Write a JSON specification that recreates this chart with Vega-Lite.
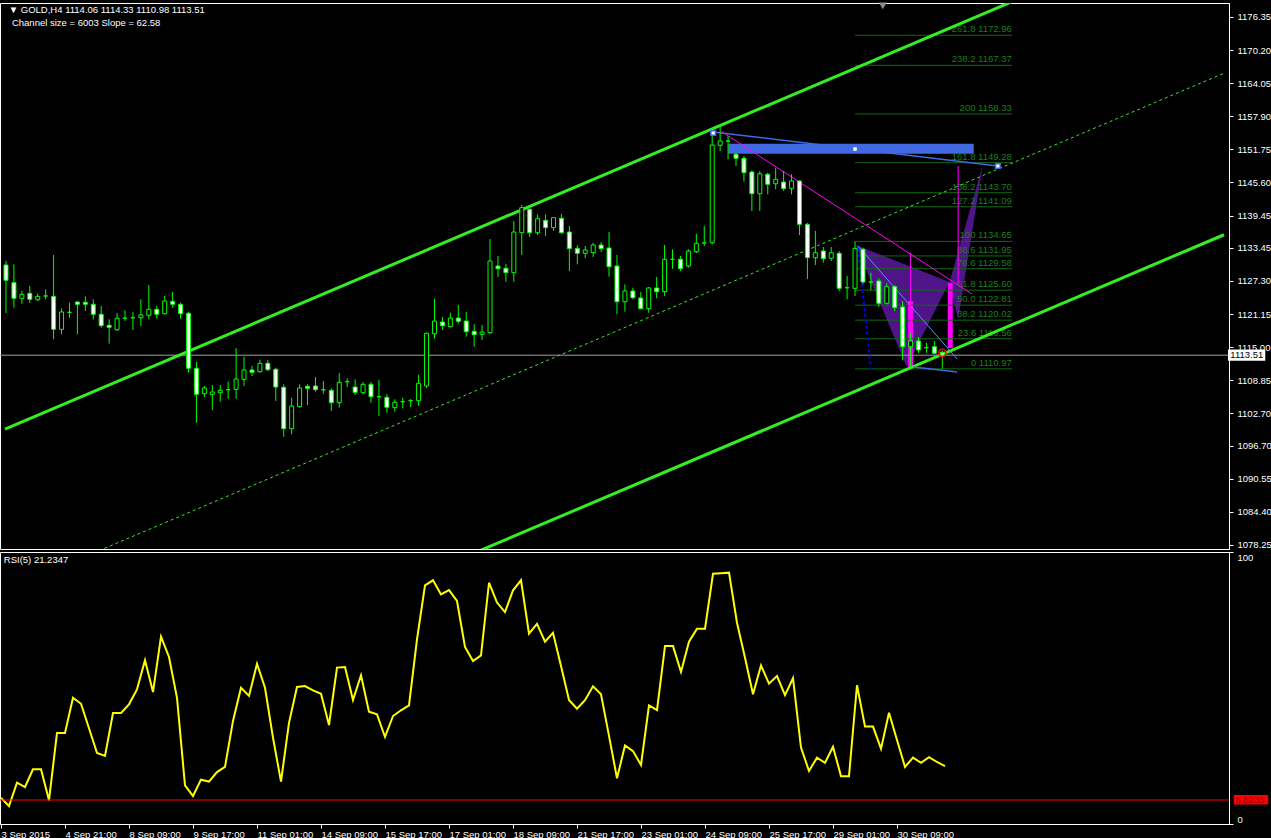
{
"$schema":"https://vega.github.io/schema/vega-lite/v6.json",
"background":"#000000",
"padding":{"left":-4,"top":2,"right":0,"bottom":0},
"spacing":3,
"bounds":"flush",
"config":{
 "view":{"stroke":"#ffffff","fill":"#000000","strokeWidth":1},
 "axis":{"grid":false,"domainColor":"#ffffff","tickColor":"#ffffff","labelColor":"#ffffff","labelFont":"Liberation Sans","labelFontSize":9.5,"tickSize":4,"labelPadding":4,"labelOverlap":false,"labelBound":false,"labelSeparation":0},
 "text":{"font":"Liberation Sans"}
},
"resolve":{"scale":{"x":"independent","y":"independent"}},
"datasets":{
 "candles":[
{"i":0,"o":1130.27,"h":1131.01,"l":1121.35,"c":1127.43},
{"i":1,"o":1126.98,"h":1130.40,"l":1122.34,"c":1124.08},
{"i":2,"o":1124.08,"h":1125.44,"l":1123.08,"c":1124.82},
{"i":3,"o":1125.01,"h":1126.37,"l":1123.26,"c":1123.90},
{"i":4,"o":1123.82,"h":1124.94,"l":1123.58,"c":1124.45},
{"i":5,"o":1124.51,"h":1125.75,"l":1123.90,"c":1124.51},
{"i":6,"o":1124.45,"h":1132.13,"l":1116.46,"c":1118.32},
{"i":7,"o":1118.32,"h":1122.22,"l":1117.39,"c":1121.54},
{"i":8,"o":1121.48,"h":1123.26,"l":1120.48,"c":1121.48},
{"i":9,"o":1123.39,"h":1123.58,"l":1117.39,"c":1122.97},
{"i":10,"o":1123.34,"h":1124.45,"l":1121.72,"c":1122.97},
{"i":11,"o":1122.97,"h":1123.90,"l":1120.18,"c":1121.11},
{"i":12,"o":1121.11,"h":1122.65,"l":1118.62,"c":1118.99},
{"i":13,"o":1119.07,"h":1120.18,"l":1115.65,"c":1118.69},
{"i":14,"o":1118.25,"h":1121.35,"l":1118.01,"c":1120.37},
{"i":15,"o":1120.37,"h":1121.85,"l":1119.86,"c":1120.37},
{"i":16,"o":1120.48,"h":1121.54,"l":1118.19,"c":1120.48},
{"i":17,"o":1120.48,"h":1123.90,"l":1118.93,"c":1120.98},
{"i":18,"o":1120.92,"h":1126.55,"l":1120.18,"c":1122.04},
{"i":19,"o":1122.04,"h":1122.65,"l":1120.29,"c":1121.11},
{"i":20,"o":1121.22,"h":1124.51,"l":1121.07,"c":1123.58},
{"i":21,"o":1123.52,"h":1125.25,"l":1122.34,"c":1122.97},
{"i":22,"o":1122.97,"h":1123.26,"l":1120.29,"c":1121.22},
{"i":23,"o":1121.29,"h":1121.54,"l":1110.26,"c":1111.08},
{"i":24,"o":1111.08,"h":1112.25,"l":1100.97,"c":1106.24},
{"i":25,"o":1106.36,"h":1107.79,"l":1105.74,"c":1107.42},
{"i":26,"o":1106.24,"h":1107.97,"l":1103.33,"c":1106.67},
{"i":27,"o":1106.54,"h":1107.97,"l":1104.87,"c":1106.99},
{"i":28,"o":1107.10,"h":1108.59,"l":1105.43,"c":1107.10},
{"i":29,"o":1107.17,"h":1114.85,"l":1105.43,"c":1109.09},
{"i":30,"o":1109.03,"h":1113.23,"l":1107.79,"c":1110.76},
{"i":31,"o":1110.76,"h":1111.50,"l":1109.64,"c":1110.33},
{"i":32,"o":1110.44,"h":1112.67,"l":1110.26,"c":1112.00},
{"i":33,"o":1112.00,"h":1112.62,"l":1110.57,"c":1110.82},
{"i":34,"o":1110.89,"h":1111.19,"l":1105.00,"c":1107.60},
{"i":35,"o":1107.55,"h":1108.10,"l":1098.37,"c":1099.85},
{"i":36,"o":1099.85,"h":1105.61,"l":1098.81,"c":1104.07},
{"i":37,"o":1103.94,"h":1108.10,"l":1103.76,"c":1107.42},
{"i":38,"o":1107.73,"h":1108.10,"l":1104.26,"c":1107.36},
{"i":39,"o":1107.79,"h":1109.46,"l":1106.73,"c":1107.10},
{"i":40,"o":1107.10,"h":1108.72,"l":1106.36,"c":1107.10},
{"i":41,"o":1106.99,"h":1107.36,"l":1103.14,"c":1104.68},
{"i":42,"o":1104.68,"h":1110.20,"l":1103.76,"c":1108.47},
{"i":43,"o":1108.59,"h":1109.22,"l":1107.60,"c":1108.59},
{"i":44,"o":1107.60,"h":1109.03,"l":1106.11,"c":1106.62},
{"i":45,"o":1106.54,"h":1108.53,"l":1106.24,"c":1108.10},
{"i":46,"o":1108.10,"h":1108.53,"l":1104.68,"c":1105.80},
{"i":47,"o":1105.80,"h":1108.90,"l":1102.21,"c":1105.80},
{"i":48,"o":1105.69,"h":1106.24,"l":1102.83,"c":1103.83},
{"i":49,"o":1103.76,"h":1105.32,"l":1103.01,"c":1104.76},
{"i":50,"o":1104.87,"h":1105.61,"l":1103.64,"c":1104.87},
{"i":51,"o":1105.06,"h":1105.37,"l":1103.89,"c":1105.06},
{"i":52,"o":1105.06,"h":1109.83,"l":1104.07,"c":1108.29},
{"i":53,"o":1107.79,"h":1117.69,"l":1107.42,"c":1117.58},
{"i":54,"o":1117.50,"h":1124.01,"l":1116.58,"c":1119.86},
{"i":55,"o":1119.68,"h":1120.61,"l":1118.19,"c":1118.99},
{"i":56,"o":1118.81,"h":1121.41,"l":1118.62,"c":1120.42},
{"i":57,"o":1120.42,"h":1122.84,"l":1119.36,"c":1119.81},
{"i":58,"o":1119.86,"h":1121.54,"l":1116.95,"c":1117.88},
{"i":59,"o":1117.95,"h":1119.25,"l":1115.09,"c":1117.32},
{"i":60,"o":1117.39,"h":1119.12,"l":1116.33,"c":1117.82},
{"i":61,"o":1117.69,"h":1135.10,"l":1117.45,"c":1131.01},
{"i":62,"o":1130.08,"h":1131.94,"l":1128.04,"c":1129.58},
{"i":63,"o":1129.66,"h":1130.51,"l":1127.17,"c":1128.84},
{"i":64,"o":1128.84,"h":1138.44,"l":1127.17,"c":1136.40},
{"i":65,"o":1136.27,"h":1141.42,"l":1132.13,"c":1140.92},
{"i":66,"o":1140.62,"h":1140.92,"l":1135.47,"c":1136.27},
{"i":67,"o":1136.27,"h":1139.69,"l":1135.84,"c":1138.87},
{"i":68,"o":1138.57,"h":1139.69,"l":1135.66,"c":1137.20},
{"i":69,"o":1137.20,"h":1139.19,"l":1136.59,"c":1139.06},
{"i":70,"o":1138.95,"h":1139.80,"l":1136.03,"c":1136.27},
{"i":71,"o":1136.40,"h":1137.51,"l":1129.15,"c":1133.30},
{"i":72,"o":1133.37,"h":1133.93,"l":1130.40,"c":1132.44},
{"i":73,"o":1132.44,"h":1133.80,"l":1131.51,"c":1133.06},
{"i":74,"o":1132.55,"h":1134.41,"l":1131.76,"c":1133.98},
{"i":75,"o":1133.98,"h":1134.54,"l":1132.68,"c":1133.30},
{"i":76,"o":1133.43,"h":1136.40,"l":1128.10,"c":1129.95},
{"i":77,"o":1130.08,"h":1132.13,"l":1121.11,"c":1123.45},
{"i":78,"o":1123.45,"h":1126.68,"l":1121.59,"c":1125.44},
{"i":79,"o":1125.44,"h":1126.05,"l":1123.90,"c":1124.19},
{"i":80,"o":1124.14,"h":1125.25,"l":1122.04,"c":1122.15},
{"i":81,"o":1122.15,"h":1126.18,"l":1121.41,"c":1126.00},
{"i":82,"o":1126.00,"h":1128.04,"l":1124.08,"c":1125.31},
{"i":83,"o":1125.31,"h":1133.98,"l":1124.51,"c":1131.33},
{"i":84,"o":1131.33,"h":1133.19,"l":1129.58,"c":1131.33},
{"i":85,"o":1131.33,"h":1131.94,"l":1129.15,"c":1129.58},
{"i":86,"o":1130.08,"h":1133.19,"l":1129.77,"c":1132.87},
{"i":87,"o":1132.74,"h":1136.08,"l":1132.50,"c":1134.30},
{"i":88,"o":1134.36,"h":1137.51,"l":1133.80,"c":1134.36},
{"i":89,"o":1134.41,"h":1155.17,"l":1134.11,"c":1152.56},
{"i":90,"o":1152.51,"h":1156.41,"l":1151.45,"c":1153.31},
{"i":91,"o":1153.31,"h":1154.24,"l":1149.91,"c":1153.31},
{"i":92,"o":1150.84,"h":1151.13,"l":1148.66,"c":1150.09},
{"i":93,"o":1150.09,"h":1150.52,"l":1145.75,"c":1147.42},
{"i":94,"o":1147.55,"h":1147.86,"l":1140.30,"c":1143.52},
{"i":95,"o":1143.52,"h":1147.73,"l":1140.30,"c":1147.23},
{"i":96,"o":1147.12,"h":1147.42,"l":1143.40,"c":1145.26},
{"i":97,"o":1145.37,"h":1148.35,"l":1144.33,"c":1146.19},
{"i":98,"o":1145.69,"h":1147.73,"l":1144.02,"c":1144.45},
{"i":99,"o":1144.52,"h":1147.12,"l":1143.40,"c":1145.88},
{"i":100,"o":1145.88,"h":1146.01,"l":1135.84,"c":1137.83},
{"i":101,"o":1137.83,"h":1138.07,"l":1127.67,"c":1131.63},
{"i":102,"o":1131.63,"h":1136.59,"l":1130.27,"c":1132.55},
{"i":103,"o":1132.87,"h":1133.61,"l":1130.70,"c":1131.44},
{"i":104,"o":1131.51,"h":1133.61,"l":1131.01,"c":1132.55},
{"i":105,"o":1132.44,"h":1132.87,"l":1125.44,"c":1125.94},
{"i":106,"o":1126.05,"h":1128.22,"l":1123.90,"c":1126.05},
{"i":107,"o":1125.94,"h":1134.65,"l":1124.51,"c":1133.37},
{"i":108,"o":1133.19,"h":1133.48,"l":1126.68,"c":1127.11},
{"i":109,"o":1127.11,"h":1128.84,"l":1125.57,"c":1127.11},
{"i":110,"o":1127.30,"h":1127.80,"l":1122.52,"c":1123.15},
{"i":111,"o":1123.15,"h":1126.87,"l":1122.97,"c":1126.24},
{"i":112,"o":1126.24,"h":1126.55,"l":1121.72,"c":1122.34},
{"i":113,"o":1122.47,"h":1123.58,"l":1112.56,"c":1115.09},
{"i":114,"o":1115.09,"h":1117.69,"l":1111.00,"c":1116.15},
{"i":115,"o":1116.15,"h":1116.89,"l":1113.97,"c":1114.48},
{"i":116,"o":1114.90,"h":1115.83,"l":1113.97,"c":1114.90},
{"i":117,"o":1115.09,"h":1116.15,"l":1113.68,"c":1113.86},
{"i":118,"o":1114.06,"h":1114.33,"l":1110.98,"c":1113.51}
 ],
 "rsi":[
{"i":0,"v":9.6},{"i":1,"v":6.6},{"i":2,"v":15.2},{"i":3,"v":13.6},{"i":4,"v":20.1},{"i":5,"v":20.1},{"i":6,"v":8.7},{"i":7,"v":33.5},{"i":8,"v":33.5},{"i":9,"v":46.4},
{"i":10,"v":44.2},{"i":11,"v":35.2},{"i":12,"v":26.1},{"i":13,"v":25.0},{"i":14,"v":40.8},{"i":15,"v":40.8},{"i":16,"v":44.0},{"i":17,"v":49.5},{"i":18,"v":60.2},{"i":19,"v":48.5},
{"i":20,"v":68.9},{"i":21,"v":61.4},{"i":22,"v":46.4},{"i":23,"v":14.2},{"i":24,"v":10.3},{"i":25,"v":16.3},{"i":26,"v":15.6},{"i":27,"v":19.1},{"i":28,"v":21.0},{"i":29,"v":37.9},
{"i":30,"v":50.1},{"i":31,"v":47.1},{"i":32,"v":58.9},{"i":33,"v":50.1},{"i":34,"v":31.7},{"i":35,"v":15.6},{"i":36,"v":37.2},{"i":37,"v":50.4},{"i":38,"v":50.7},{"i":39,"v":49.1},
{"i":40,"v":47.9},{"i":41,"v":36.4},{"i":42,"v":57.5},{"i":43,"v":57.7},{"i":44,"v":45.6},{"i":45,"v":54.7},{"i":46,"v":41.3},{"i":47,"v":40.3},{"i":48,"v":32.0},{"i":49,"v":39.7},
{"i":50,"v":41.8},{"i":51,"v":43.6},{"i":52,"v":67.9},{"i":53,"v":87.7},{"i":54,"v":89.6},{"i":55,"v":84.4},{"i":56,"v":86.0},{"i":57,"v":82.0},{"i":58,"v":65.1},{"i":59,"v":59.9},
{"i":60,"v":62.0},{"i":61,"v":88.7},{"i":62,"v":81.4},{"i":63,"v":77.9},{"i":64,"v":85.9},{"i":65,"v":89.6},{"i":66,"v":70.0},{"i":67,"v":73.6},{"i":68,"v":67.0},{"i":69,"v":70.3},
{"i":70,"v":58.1},{"i":71,"v":45.6},{"i":72,"v":42.4},{"i":73,"v":45.5},{"i":74,"v":50.6},{"i":75,"v":47.7},{"i":76,"v":32.4},{"i":77,"v":16.8},{"i":78,"v":28.9},{"i":79,"v":26.8},
{"i":80,"v":21.7},{"i":81,"v":43.6},{"i":82,"v":41.9},{"i":83,"v":65.4},{"i":84,"v":65.4},{"i":85,"v":55.9},{"i":86,"v":67.0},{"i":87,"v":71.8},{"i":88,"v":71.8},{"i":89,"v":92.0},
{"i":90,"v":92.2},{"i":91,"v":92.4},{"i":92,"v":74.0},{"i":93,"v":61.1},{"i":94,"v":47.7},{"i":95,"v":58.3},{"i":96,"v":51.6},{"i":97,"v":54.4},{"i":98,"v":47.4},{"i":99,"v":53.6},
{"i":100,"v":28.1},{"i":101,"v":19.5},{"i":102,"v":24.4},{"i":103,"v":22.5},{"i":104,"v":28.4},{"i":105,"v":17.6},{"i":106,"v":17.6},{"i":107,"v":51.0},{"i":108,"v":35.8},{"i":109,"v":35.8},
{"i":110,"v":27.7},{"i":111,"v":40.9},{"i":112,"v":30.9},{"i":113,"v":21.0},{"i":114,"v":24.4},{"i":115,"v":22.5},{"i":116,"v":24.6},{"i":117,"v":22.8},{"i":118,"v":21.2347}
 ],
 "channel":[
{"line":"upper","i":-0.125,"p":1099.78},{"line":"upper","i":153.5,"p":1195.92},
{"line":"lower","i":-0.125,"p":1039.75},{"line":"lower","i":153.5,"p":1135.89},
{"line":"mid","i":-0.125,"p":1069.77},{"line":"mid","i":153.5,"p":1165.91}
 ],
 "fib":[
{"t":"261.8 1172.96","p":1172.96},{"t":"238.2 1167.37","p":1167.37},{"t":"200 1158.33","p":1158.33},{"t":"161.8 1149.28","p":1149.28},
{"t":"138.2 1143.70","p":1143.70},{"t":"127.2 1141.09","p":1141.09},{"t":"100 1134.65","p":1134.65},{"t":"88.6 1131.95","p":1131.95},
{"t":"78.6 1129.58","p":1129.58},{"t":"61.8 1125.60","p":1125.60},{"t":"50.0 1122.81","p":1122.81},{"t":"38.2 1120.02","p":1120.02},
{"t":"23.6 1116.56","p":1116.56},{"t":"0 1110.97","p":1110.97}
 ],
 "shape":[
{"s":"XAB","i":107.1,"top":1133.98,"bot":1133.98},{"s":"XAB","i":113.5,"top":1130.25,"bot":1111.32},{"s":"XAB","i":118.9,"top":1127.11,"bot":1127.11},
{"s":"BCD","i":118.875,"top":1126.93,"bot":1126.93},{"s":"BCD","i":120,"top":1132.78,"bot":1120.24},{"s":"BCD","i":123.125,"top":1149.04,"bot":1149.04}
 ],
 "mbar":[{"i":114,"p1":1123.58,"p2":1111.32},{"i":119,"p1":1126.93,"p2":1114.85}],
 "zone":[{"i1":91.04,"i2":121.96,"p1":1152.81,"p2":1150.95}],
 "segs":[
{"id":"blueTop","i":89.125,"p":1154.98,"i2":125,"p2":1148.66},
{"id":"magenta","i":90.2,"p":1155.04,"i2":121.75,"p2":1124.88},
{"id":"blueThin","i":107.375,"p":1133.8,"i2":119.875,"p2":1112.8},
{"id":"blueLow","i":114.375,"p":1111.32,"i2":119.875,"p2":1110.39},
{"id":"blueDot","i":107.375,"p":1133.43,"i2":109,"p2":1110.95},
{"id":"magThin","i":114,"p":1132.56,"i2":114,"p2":1111.19},
{"id":"magThin","i":120,"p":1148.66,"i2":120,"p2":1126.93}
 ],
 "marks":[
{"k":"sqW","i":107,"p":1151.82},{"k":"sqB","i":89.125,"p":1154.8},{"k":"sqB","i":125,"p":1148.66},
{"k":"ring","i":118,"p":1113.92},{"k":"tri","i":110.5,"p":1178.4}
 ]
},
"vconcat":[
{
 "width":1229,"height":546,
 "layer":[
  {"data":{"name":"shape"},"mark":{"type":"area","fill":"#4e1488","fillOpacity":1,"opacity":1,"orient":"vertical"},
   "encoding":{"x":{"field":"i","type":"quantitative","scale":{"domain":[-0.125,153.5],"nice":false,"zero":false},"axis":null},
    "y":{"field":"top","type":"quantitative","scale":{"domain":[1077.5,1178.95],"nice":false,"zero":false},
      "axis":{"orient":"right","title":null,"values":[1078.25,1084.40,1090.55,1096.70,1102.70,1108.85,1115.00,1121.15,1127.30,1133.45,1139.45,1145.60,1151.75,1157.90,1164.05,1170.20,1176.35],"tickCount":100,"format":".2f","labelOverlap":false,"labelBound":false}},
    "y2":{"field":"bot"},"detail":{"field":"s"}}},
  {"data":{"name":"mbar"},"mark":{"type":"bar","color":"#ff00ff","size":5,"orient":"vertical"},
   "encoding":{"x":{"field":"i","type":"quantitative","axis":null},"y":{"field":"p1","type":"quantitative","title":null},"y2":{"field":"p2"}}},
  {"data":{"name":"fib"},"mark":{"type":"rule","color":"#0e6a0e","strokeWidth":1},
   "encoding":{"x":{"datum":107,"type":"quantitative","axis":null},"x2":{"datum":126.8},"y":{"field":"p","type":"quantitative","title":null}}},
  {"data":{"name":"fib"},"mark":{"type":"text","align":"right","baseline":"bottom","dy":-1,"color":"#1a7f1a","font":"Liberation Sans","fontSize":9.5},
   "encoding":{"x":{"datum":126.75,"type":"quantitative","axis":null},"y":{"field":"p","type":"quantitative","title":null},"text":{"field":"t"}}},
  {"data":{"name":"zone"},"mark":{"type":"rect","color":"#4169e1"},
   "encoding":{"x":{"field":"i1","type":"quantitative","axis":null},"x2":{"field":"i2"},"y":{"field":"p1","type":"quantitative","title":null},"y2":{"field":"p2"}}},
  {"data":{"values":[{"p":1113.51}]},"mark":{"type":"rule","color":"#a0a0a0","strokeWidth":1},
   "encoding":{"y":{"field":"p","type":"quantitative","title":null}}},
  {"data":{"name":"channel"},"transform":[{"filter":"datum.line != 'mid'"}],"mark":{"type":"line","color":"#33ee22","strokeWidth":3,"clip":true},
   "encoding":{"x":{"field":"i","type":"quantitative","axis":null},"y":{"field":"p","type":"quantitative","title":null},"detail":{"field":"line"}}},
  {"data":{"name":"channel"},"transform":[{"filter":"datum.line == 'mid'"}],"mark":{"type":"line","color":"#33ee22","strokeWidth":1,"strokeDash":[3,3],"clip":true},
   "encoding":{"x":{"field":"i","type":"quantitative","axis":null},"y":{"field":"p","type":"quantitative","title":null}}},
  {"data":{"name":"segs"},"transform":[{"filter":"datum.id == 'blueTop' || datum.id == 'blueLow'"}],"mark":{"type":"rule","color":"#4169e1","strokeWidth":1.5},
   "encoding":{"x":{"field":"i","type":"quantitative","axis":null},"y":{"field":"p","type":"quantitative","title":null},"x2":{"field":"i2"},"y2":{"field":"p2"}}},
  {"data":{"name":"segs"},"transform":[{"filter":"datum.id == 'blueThin'"}],"mark":{"type":"rule","color":"#5b8cff","strokeWidth":1},
   "encoding":{"x":{"field":"i","type":"quantitative","axis":null},"y":{"field":"p","type":"quantitative","title":null},"x2":{"field":"i2"},"y2":{"field":"p2"}}},
  {"data":{"name":"segs"},"transform":[{"filter":"datum.id == 'blueDot'"}],"mark":{"type":"rule","color":"#0000ff","strokeWidth":2,"strokeDash":[3,3]},
   "encoding":{"x":{"field":"i","type":"quantitative","axis":null},"y":{"field":"p","type":"quantitative","title":null},"x2":{"field":"i2"},"y2":{"field":"p2"}}},
  {"data":{"name":"segs"},"transform":[{"filter":"datum.id == 'magenta' || datum.id == 'magThin'"}],"mark":{"type":"rule","color":"#ff00ff","strokeWidth":1},
   "encoding":{"x":{"field":"i","type":"quantitative","axis":null},"y":{"field":"p","type":"quantitative","title":null},"x2":{"field":"i2"},"y2":{"field":"p2"}}},
  {"data":{"name":"candles"},"mark":{"type":"rule","color":"#00ff00","strokeWidth":1},
   "encoding":{"x":{"field":"i","type":"quantitative","axis":null},"y":{"field":"l","type":"quantitative","title":null},"y2":{"field":"h"}}},
  {"data":{"name":"candles"},"mark":{"type":"bar","size":4,"orient":"vertical","strokeWidth":1},
   "encoding":{"x":{"field":"i","type":"quantitative","axis":null},"y":{"field":"o","type":"quantitative","title":null},"y2":{"field":"c"},
    "fill":{"condition":{"test":"datum.o > datum.c","value":"#ffffff"},"value":"#000000"},"stroke":{"value":"#00ff00"}}},
  {"data":{"name":"marks"},"transform":[{"filter":"datum.k == 'sqW'"}],"mark":{"type":"point","shape":"square","filled":true,"color":"#ffffff","size":12,"opacity":1},
   "encoding":{"x":{"field":"i","type":"quantitative","axis":null},"y":{"field":"p","type":"quantitative","title":null}}},
  {"data":{"name":"marks"},"transform":[{"filter":"datum.k == 'sqB'"}],"mark":{"type":"point","shape":"square","filled":true,"fill":"#ffffff","stroke":"#4169e1","strokeWidth":1.5,"size":22,"opacity":1},
   "encoding":{"x":{"field":"i","type":"quantitative","axis":null},"y":{"field":"p","type":"quantitative","title":null}}},
  {"data":{"name":"marks"},"transform":[{"filter":"datum.k == 'ring'"}],"mark":{"type":"point","shape":"circle","filled":false,"stroke":"#ff0000","strokeWidth":1.5,"size":55,"opacity":1},
   "encoding":{"x":{"field":"i","type":"quantitative","axis":null},"y":{"field":"p","type":"quantitative","title":null}}},
  {"data":{"name":"marks"},"transform":[{"filter":"datum.k == 'tri'"}],"mark":{"type":"point","shape":"triangle-down","filled":true,"color":"#8c8c8c","size":60,"opacity":1},
   "encoding":{"x":{"field":"i","type":"quantitative","axis":null},"y":{"field":"p","type":"quantitative","title":null}}},
  {"data":{"values":[{}]},"mark":{"type":"text","align":"left","baseline":"middle","color":"#ffffff","font":"Liberation Sans","fontSize":9.5,"text":"▼ GOLD,H4  1114.06 1114.33 1110.98 1113.51"},
   "encoding":{"x":{"datum":0.35,"type":"quantitative","axis":null},"y":{"datum":1177.7,"type":"quantitative","title":null}}},
  {"data":{"values":[{}]},"mark":{"type":"text","align":"left","baseline":"middle","color":"#ffffff","font":"Liberation Sans","fontSize":9.5,"text":"Channel size = 6003 Slope = 62.58"},
   "encoding":{"x":{"datum":0.75,"type":"quantitative","axis":null},"y":{"datum":1175.25,"type":"quantitative","title":null}}},
  {"data":{"values":[{}]},"mark":{"type":"rect","color":"#ffffff"},
   "encoding":{"x":{"datum":154.0,"type":"quantitative","axis":null},"x2":{"datum":158.7},"y":{"datum":1114.55,"type":"quantitative","title":null},"y2":{"datum":1112.47}}},
  {"data":{"values":[{}]},"mark":{"type":"text","align":"left","baseline":"middle","color":"#000000","font":"Liberation Sans","fontSize":9.5,"text":"1113.51"},
   "encoding":{"x":{"datum":154.3,"type":"quantitative","axis":null},"y":{"datum":1113.51,"type":"quantitative","title":null}}}
 ]
},
{
 "width":1229,"height":272,
 "layer":[
  {"data":{"name":"rsi"},"mark":{"type":"line","color":"#ffff00","strokeWidth":2},
   "encoding":{"x":{"field":"i","type":"quantitative","scale":{"domain":[-0.125,153.5],"nice":false,"zero":false},
      "axis":{"orient":"bottom","title":null,"values":[0,8,16,24,32,40,48,56,64,72,80,88,96,104,112],"tickCount":100,"labelAlign":"left","labelPadding":1,"labelOverlap":false,"labelFlush":false,
       "labelExpr":"['3 Sep 2015','4 Sep 21:00','8 Sep 09:00','9 Sep 17:00','11 Sep 01:00','14 Sep 09:00','15 Sep 17:00','17 Sep 01:00','18 Sep 09:00','21 Sep 17:00','23 Sep 01:00','24 Sep 09:00','25 Sep 17:00','29 Sep 01:00','30 Sep 09:00'][round(datum.value/8)]"}},
    "y":{"field":"v","type":"quantitative","scale":{"domain":[0,100],"nice":false,"zero":false},"axis":{"orient":"right","title":null,"values":[0,100],"labelFlush":true,"labelOverlap":false}}}},
  {"data":{"values":[{}]},"mark":{"type":"rule","color":"#ff0000","strokeWidth":1},
   "encoding":{"y":{"datum":8.8235,"type":"quantitative","title":null}}},
  {"data":{"values":[{}]},"mark":{"type":"text","align":"left","baseline":"middle","color":"#ffffff","font":"Liberation Sans","fontSize":9.5,"text":"RSI(5) 21.2347"},
   "encoding":{"x":{"datum":0.35,"type":"quantitative","title":null},"y":{"datum":97,"type":"quantitative","title":null}}},
  {"data":{"values":[{}]},"mark":{"type":"rect","color":"#ff0000"},
   "encoding":{"x":{"datum":154.1,"type":"quantitative","title":null},"x2":{"datum":158.4},"y":{"datum":10.66,"type":"quantitative","title":null},"y2":{"datum":7.2}}},
  {"data":{"values":[{}]},"mark":{"type":"text","align":"left","baseline":"middle","color":"#8a0000","font":"Liberation Sans","fontSize":9.5,"text":"8.8235"},
   "encoding":{"x":{"datum":154.3,"type":"quantitative","title":null},"y":{"datum":8.8235,"type":"quantitative","title":null}}}
 ]
}
]
}
